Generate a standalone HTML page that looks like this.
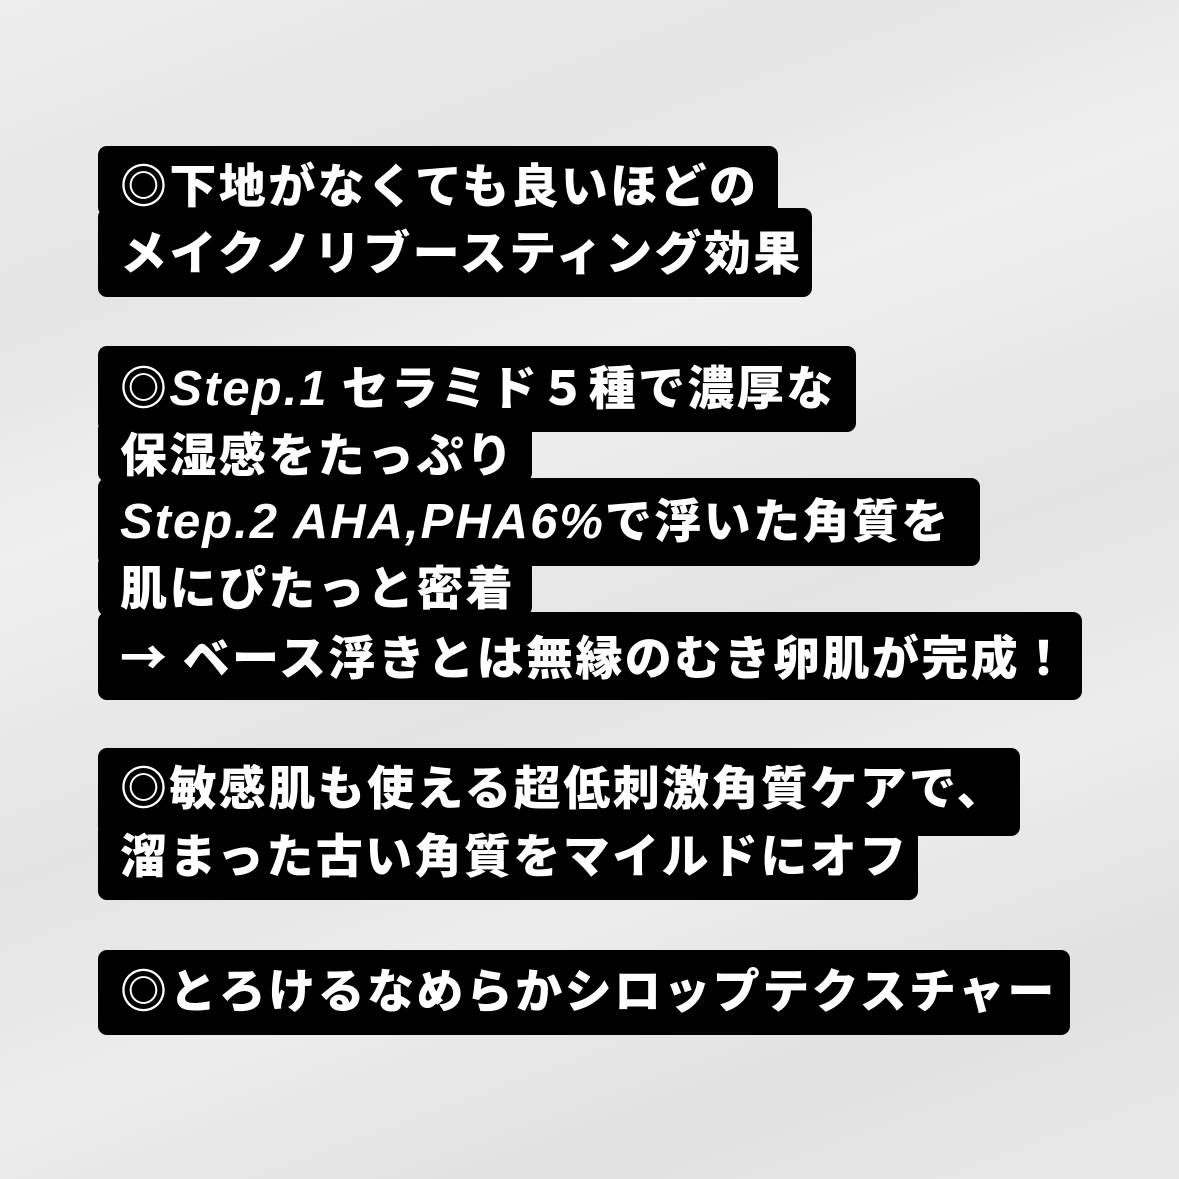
<!DOCTYPE html>
<html><head><meta charset="utf-8"><style>
html,body{margin:0;padding:0}
body{width:1179px;height:1179px;position:relative;overflow:hidden;
background:linear-gradient(160deg,#ededed 0%,#e4e4e4 20%,#efefef 35%,#e3e3e3 55%,#ececec 70%,#e1e1e1 85%,#e8e8e8 100%);
font-family:"Liberation Sans","Noto Sans CJK JP",sans-serif;}
.b{position:absolute;background:#000;border-radius:9px;left:98px}
.t{position:absolute;left:120px;color:#fff;font-family:"Noto Sans CJK JP","Liberation Sans",sans-serif;font-weight:900;font-size:47px;line-height:66px;height:66px;white-space:nowrap;letter-spacing:2.4px}
.i{font-family:"Liberation Sans",sans-serif;font-style:italic;font-weight:bold;font-size:49px;letter-spacing:2px}
</style></head><body>
<div class="b" style="top:146px;width:680px;height:70px"></div>
<div class="b" style="top:208px;width:714px;height:89px"></div>
<div class="t" style="top:150px">◎下地がなくても良いほどの</div>
<div class="t" style="top:217px">メイクノリブースティング効果</div>

<div class="b" style="top:346px;width:758px;height:86px"></div>
<div class="b" style="top:420px;width:434px;height:62px"></div>
<div class="b" style="top:478px;width:882px;height:88px"></div>
<div class="b" style="top:555px;width:434px;height:61px"></div>
<div class="b" style="top:612px;width:984px;height:88px"></div>
<div class="t" style="top:352px">◎<span class="i">Step.1</span> セラミド５種で濃厚な</div>
<div class="t" style="top:419px">保湿感をたっぷり</div>
<div class="t" style="top:485px"><span class="i">Step.2 AHA,PHA6%</span>で浮いた角質を</div>
<div class="t" style="top:552px">肌にぴたっと密着</div>
<div class="t" style="top:622px">→ ベース浮きとは無縁のむき卵肌が完成！</div>

<div class="b" style="top:748px;width:922px;height:88px"></div>
<div class="b" style="top:822px;width:820px;height:78px"></div>
<div class="t" style="top:752px">◎敏感肌も使える超低刺激角質ケアで、</div>
<div class="t" style="top:820px">溜まった古い角質をマイルドにオフ</div>

<div class="b" style="top:950px;width:972px;height:85px"></div>
<div class="t" style="top:955px">◎とろけるなめらかシロップテクスチャー</div>
</body></html>
